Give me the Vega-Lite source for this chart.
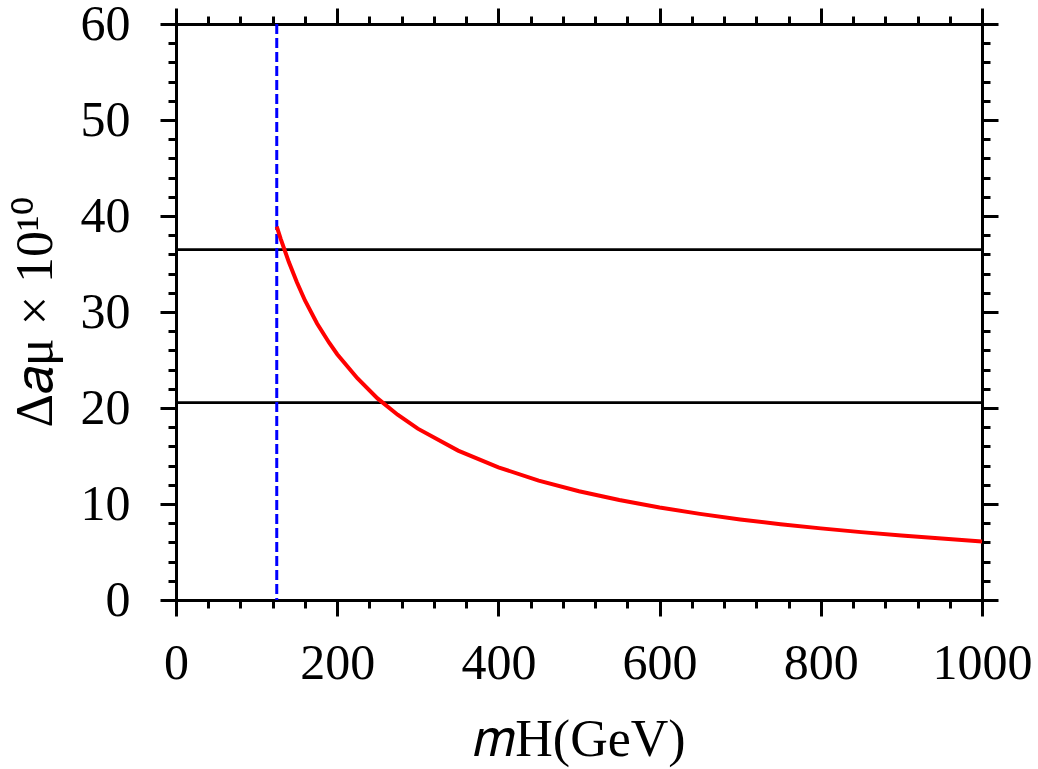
{
  "$schema": "https://vega.github.io/schema/vega-lite/v6.json",
  "width": 806,
  "height": 576,
  "autosize": {"type": "none"},
  "padding": {"left": 176, "top": 24, "right": 56, "bottom": 169},
  "background": "white",
  "config": {
    "view": {"stroke": null},
    "axis": {
      "labelFont": "Liberation Serif",
      "labelFontSize": 50,
      "labelColor": "black",
      "labelFlush": false,
      "labelOverlap": false,
      "format": "d",
      "titleFont": "Liberation Serif",
      "titleFontSize": 52,
      "titleFontWeight": "normal",
      "titleColor": "black",
      "tickColor": "black",
      "tickWidth": 3,
      "domainColor": "black",
      "domainWidth": 3,
      "grid": false
    }
  },
  "datasets": {
    "curve": [
      {"m": 125, "v": 38.9}, {"m": 130, "v": 37.6}, {"m": 140, "v": 35.2},
      {"m": 150, "v": 33.1}, {"m": 160, "v": 31.2}, {"m": 175, "v": 28.8},
      {"m": 190, "v": 26.8}, {"m": 200, "v": 25.6}, {"m": 225, "v": 23.1},
      {"m": 250, "v": 21.0}, {"m": 275, "v": 19.3}, {"m": 300, "v": 17.85},
      {"m": 350, "v": 15.56}, {"m": 400, "v": 13.82}, {"m": 450, "v": 12.44},
      {"m": 500, "v": 11.33}, {"m": 550, "v": 10.41}, {"m": 600, "v": 9.63},
      {"m": 650, "v": 8.97}, {"m": 700, "v": 8.39}, {"m": 750, "v": 7.9},
      {"m": 800, "v": 7.46}, {"m": 850, "v": 7.07}, {"m": 900, "v": 6.72},
      {"m": 950, "v": 6.4}, {"m": 1000, "v": 6.1}
    ],
    "hlines": [{"v": 36.5}, {"v": 20.55}],
    "vline": [{"m": 125}]
  },
  "layer": [
    {
      "data": {"name": "curve"},
      "mark": {"type": "point", "opacity": 0},
      "encoding": {
        "x": {"field": "m", "type": "quantitative", "scale": {"domain": [0, 1000], "nice": false},
          "axis": {"orient": "bottom", "values": [0,40,80,120,160,200,240,280,320,360,400,440,480,520,560,600,640,680,720,760,800,840,880,920,960,1000], "tickSize": 8, "labels": false, "domain": false, "title": null}},
        "y": {"field": "v", "type": "quantitative", "scale": {"domain": [0, 60], "nice": false},
          "axis": {"orient": "left", "values": [0,2,4,6,8,10,12,14,16,18,20,22,24,26,28,30,32,34,36,38,40,42,44,46,48,50,52,54,56,58,60], "tickSize": 8, "labels": false, "domain": false, "title": null}}
      }
    },
    {
      "data": {"name": "curve"},
      "mark": {"type": "point", "opacity": 0},
      "encoding": {
        "x": {"field": "m", "type": "quantitative",
          "axis": {"orient": "top", "values": [0,200,400,600,800,1000], "tickSize": 16, "labels": false, "title": null}},
        "y": {"field": "v", "type": "quantitative",
          "axis": {"orient": "right", "values": [0,10,20,30,40,50,60], "tickSize": 16, "labels": false, "title": null}}
      }
    },
    {
      "data": {"name": "curve"},
      "mark": {"type": "point", "opacity": 0},
      "encoding": {
        "x": {"field": "m", "type": "quantitative",
          "axis": {"orient": "top", "values": [0,40,80,120,160,200,240,280,320,360,400,440,480,520,560,600,640,680,720,760,800,840,880,920,960,1000], "tickSize": 8, "labels": false, "domain": false, "title": null}},
        "y": {"field": "v", "type": "quantitative",
          "axis": {"orient": "right", "values": [0,2,4,6,8,10,12,14,16,18,20,22,24,26,28,30,32,34,36,38,40,42,44,46,48,50,52,54,56,58,60], "tickSize": 8, "labels": false, "domain": false, "title": null}}
      }
    },
    {
      "data": {"name": "hlines"},
      "mark": {"type": "rule", "color": "black", "strokeWidth": 2.7},
      "encoding": {"y": {"field": "v", "type": "quantitative", "axis": null}}
    },
    {
      "data": {"name": "vline"},
      "mark": {"type": "rule", "color": "#0000ff", "strokeWidth": 3, "strokeDash": [10, 4]},
      "encoding": {"x": {"field": "m", "type": "quantitative", "axis": null}}
    },
    {
      "data": {"name": "curve"},
      "mark": {"type": "line", "color": "#ff0000", "strokeWidth": 4},
      "encoding": {
        "x": {"field": "m", "type": "quantitative",
          "axis": {"orient": "bottom", "values": [0,200,400,600,800,1000], "tickSize": 16, "labelPadding": 22, "title": "𝑚H(GeV)", "titlePadding": 26}},
        "y": {"field": "v", "type": "quantitative",
          "axis": {"orient": "left", "values": [0,10,20,30,40,50,60], "tickSize": 16, "labelPadding": 30, "title": "Δ𝑎μ × 10¹⁰", "titlePadding": 18}}
      }
    }
  ],
  "resolve": {"axis": {"x": "independent", "y": "independent"}}
}
